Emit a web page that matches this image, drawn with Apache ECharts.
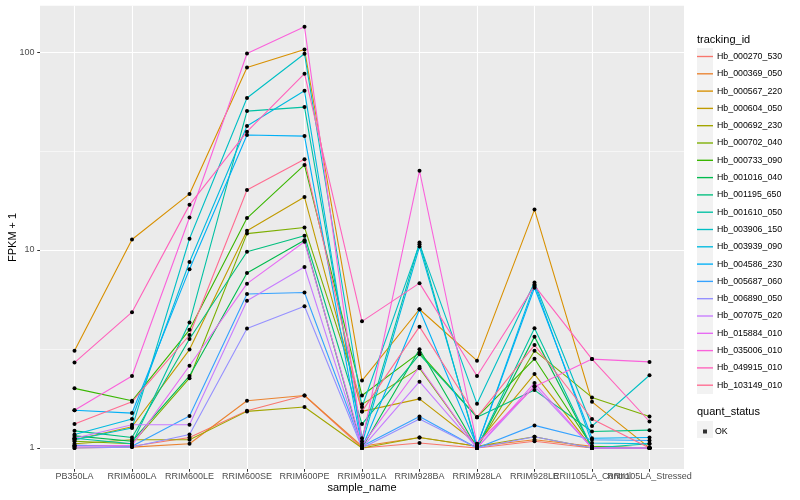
<!DOCTYPE html>
<html>
<head>
<meta charset="utf-8">
<script src="https://cdn.jsdelivr.net/npm/echarts@6/dist/echarts.min.js"></script>
<style>html,body{margin:0;padding:0;background:#fff}#c{width:800px;height:500px}</style>
</head>
<body>
<div id="c"></div>
<script>
const categories = ['PB350LA','RRIM600LA','RRIM600LE','RRIM600SE','RRIM600PE','RRIM901LA','RRIM928BA','RRIM928LA','RRIM928LE','RRII105LA_Control','RRII105LA_Stressed'];
const trackingIds = ['Hb_000270_530','Hb_000369_050','Hb_000567_220','Hb_000604_050','Hb_000692_230','Hb_000702_040','Hb_000733_090','Hb_001016_040','Hb_001195_650','Hb_001610_050','Hb_003906_150','Hb_003939_090','Hb_004586_230','Hb_005687_060','Hb_006890_050','Hb_007075_020','Hb_015884_010','Hb_035006_010','Hb_049915_010','Hb_103149_010'];
const colors = ['#F8766D','#EA8331','#D89000','#C09B00','#A3A500','#7CAE00','#39B600','#00BB4E','#00BF7D','#00C1A3','#00BFC4','#00BAE0','#00B0F6','#35A2FF','#9590FF','#C77CFF','#E76BF3','#FA62DB','#FF62BC','#FF6C91'];
const yTicks = [1, 10, 100];
const yMinorTicks = [3.1623, 31.623];

const hb_000270_530 = [1.03, 1.02, 1.13, 1.54, 1.84, 1.0, 1.06, 1.0, 1.08, 1.0, 1.0];
const hb_000369_050 = [1.0, 1.01, 1.05, 1.73, 1.84, 1.02, 1.13, 1.02, 1.10, 1.02, 1.0];
const hb_000567_220 = [3.1, 11.3, 19.2, 83.5, 103, 2.19, 5.02, 2.76, 16.0, 1.71, 1.0];
const hb_000604_050 = [1.1, 1.28, 3.14, 12.5, 18.5, 1.53, 1.77, 1.05, 2.36, 1.0, 1.0];
const hb_000692_230 = [1.05, 1.1, 1.1, 1.53, 1.61, 1.0, 1.13, 1.02, 1.14, 1.0, 1.0];
const hb_000702_040 = [1.08, 1.05, 2.25, 12.1, 13.0, 1.66, 2.53, 1.0, 3.10, 1.80, 1.44];
const hb_000733_090 = [2.0, 1.73, 3.95, 14.5, 26.9, 1.84, 3.03, 1.43, 2.82, 1.02, 1.0];
const hb_001016_040 = [1.15, 1.08, 2.31, 7.66, 11.2, 1.0, 3.15, 1.0, 3.65, 1.0, 1.0];
const hb_001195_650 = [1.22, 1.13, 3.55, 9.8, 11.8, 1.32, 2.97, 1.43, 1.96, 1.21, 1.23];
const hb_001610_050 = [1.12, 1.05, 4.3, 50.3, 52.7, 1.12, 10.9, 1.0, 4.02, 1.0, 1.05];
const hb_003906_150 = [1.1, 1.26, 11.4, 58.6, 98, 1.61, 10.7, 1.67, 6.85, 1.29, 2.33];
const hb_003939_090 = [1.17, 1.40, 8.7, 42.3, 63.7, 1.05, 10.4, 1.02, 6.7, 1.06, 1.05];
const hb_004586_230 = [1.55, 1.50, 8.0, 38.1, 37.6, 1.0, 5.0, 1.02, 6.44, 1.12, 1.13];
const hb_005687_060 = [1.03, 1.02, 1.45, 5.99, 6.1, 1.02, 1.44, 1.0, 1.30, 1.1, 1.09];
const hb_006890_050 = [1.0, 1.01, 1.17, 4.01, 5.2, 1.0, 1.40, 1.0, 1.14, 1.0, 1.0];
const hb_007075_020 = [1.12, 1.31, 1.31, 5.54, 8.2, 1.0, 2.16, 1.0, 2.05, 1.0, 1.0];
const hb_015884_010 = [1.02, 1.03, 2.6, 6.76, 11.0, 1.03, 2.57, 1.0, 2.13, 1.0, 1.0];
const hb_035006_010 = [1.55, 2.31, 14.6, 98.3, 134, 1.08, 25.1, 1.05, 2.04, 2.81, 2.72];
const hb_049915_010 = [2.7, 4.85, 16.9, 39.6, 77.7, 4.36, 6.8, 2.31, 6.6, 2.81, 1.36];
const hb_103149_010 = [1.32, 1.71, 3.72, 20.1, 28.7, 1.53, 4.1, 1.43, 3.31, 1.40, 1.0];

const seriesValues = [hb_000270_530, hb_000369_050, hb_000567_220, hb_000604_050, hb_000692_230, hb_000702_040, hb_000733_090, hb_001016_040, hb_001195_650, hb_001610_050, hb_003906_150, hb_003939_090, hb_004586_230, hb_005687_060, hb_006890_050, hb_007075_020, hb_015884_010, hb_035006_010, hb_049915_010, hb_103149_010];

const FONT = 'Liberation Sans, Arial, sans-serif';
const catIdx = categories.map((c, i) => i);
const evenIdx = catIdx.filter(i => i % 2 === 0);
const oddIdx = catIdx.filter(i => i % 2 === 1);

const series = trackingIds.map((name, k) => ({
  name: name,
  type: 'line',
  data: seriesValues[k].map((v, i) => [i, v]),
  symbol: 'circle',
  symbolSize: 4,
  showSymbol: true,
  itemStyle: { color: '#000' },
  lineStyle: { color: colors[k], width: 1.1 },
  emphasis: { disabled: true },
  z: 3
}));
series.push({ name: 'OK', type: 'scatter', data: [], itemStyle: { color: '#000' } });

const labelStyle = { color: '#4D4D4D', fontSize: 9, margin: 3.5, fontFamily: FONT, formatter: v => categories[Math.round(v)] };

const chart = echarts.init(document.getElementById('c'), null, { renderer: 'canvas' });
chart.setOption({
  animation: false,
  backgroundColor: '#fff',
  textStyle: { fontFamily: FONT },
  title: [
    { text: 'tracking_id', left: 697, top: 34, padding: 0, textStyle: { fontSize: 11, fontWeight: 'normal', color: '#000', fontFamily: FONT } },
    { text: 'quant_status', left: 697, top: 406, padding: 0, textStyle: { fontSize: 11, fontWeight: 'normal', color: '#000', fontFamily: FONT } }
  ],
  graphic: [
    { type: 'rect', left: 40, top: 5.8, shape: { width: 644, height: 463.2 }, style: { fill: '#EBEBEB' }, silent: true, z: -10 },
    { type: 'rect', left: 697, top: 48, shape: { width: 16, height: 346 }, style: { fill: '#F2F2F2' }, silent: true, z: -10 },
    { type: 'rect', left: 697, top: 421, shape: { width: 16, height: 17 }, style: { fill: '#F2F2F2' }, silent: true, z: -10 }
  ],
  grid: { left: 40, right: 116, top: 5.8, bottom: 31, show: false, outerBoundsMode: 'none', containLabel: false },
  legend: [
    {
      orient: 'vertical', left: 697, top: 52, padding: 0, itemGap: 8.3,
      itemWidth: 16, itemHeight: 17,
      icon: 'path://M0,0H20V1.7H0Z',
      data: trackingIds.map((n, k) => ({ name: n, itemStyle: { color: colors[k] } })),
      textStyle: { fontSize: 8.8, color: '#000', fontFamily: FONT, padding: [0, 0, 0, -1] },
      selectedMode: false
    },
    {
      orient: 'vertical', left: 703, top: 427, padding: 0,
      itemWidth: 4, itemHeight: 4, icon: 'rect',
      data: [{ name: 'OK', itemStyle: { color: '#000' } }],
      textStyle: { fontSize: 8.8, color: '#000', fontFamily: FONT, padding: [0, 0, 0, 3] },
      selectedMode: false
    }
  ],
  xAxis: [
    {
      type: 'value', min: -0.6, max: 10.6,
      name: 'sample_name', nameLocation: 'middle', nameGap: 13, nameMoveOverlap: false,
      nameTextStyle: { fontSize: 11, color: '#000', fontFamily: FONT },
      axisLine: { show: false, onZero: false },
      axisTick: { show: true, length: 2.75, customValues: catIdx, lineStyle: { color: '#333333', width: 1 } },
      axisLabel: Object.assign({ customValues: evenIdx }, labelStyle),
      splitLine: { show: true, lineStyle: { color: '#FFFFFF', width: 1.1 } }
    },
    {
      type: 'value', min: -0.6, max: 10.6, position: 'bottom',
      axisLine: { show: false, onZero: false },
      axisTick: { show: false, customValues: oddIdx },
      axisLabel: Object.assign({ customValues: oddIdx }, labelStyle),
      splitLine: { show: false }
    }
  ],
  yAxis: [
    {
      type: 'log', logBase: 10, min: 0.7827, max: 171.2,
      name: 'FPKM + 1', nameLocation: 'middle', nameGap: 22, nameMoveOverlap: false,
      nameTextStyle: { fontSize: 11, color: '#000', fontFamily: FONT },
      axisLine: { show: false, onZero: false },
      axisTick: { show: true, length: 2.75, customValues: yTicks, lineStyle: { color: '#333333', width: 1 } },
      axisLabel: { customValues: yTicks, color: '#4D4D4D', fontSize: 9, margin: 5.5, fontFamily: FONT },
      splitLine: { show: true, lineStyle: { color: '#FFFFFF', width: 1.1 } }
    },
    {
      type: 'log', logBase: 10, min: 0.7827, max: 171.2, position: 'left',
      axisLine: { show: false, onZero: false },
      axisTick: { show: false, customValues: yMinorTicks },
      axisLabel: { show: false, customValues: yMinorTicks },
      splitLine: { show: true, lineStyle: { color: '#FFFFFF', width: 0.55 } }
    }
  ],
  series: series
});
</script>
</body>
</html>
